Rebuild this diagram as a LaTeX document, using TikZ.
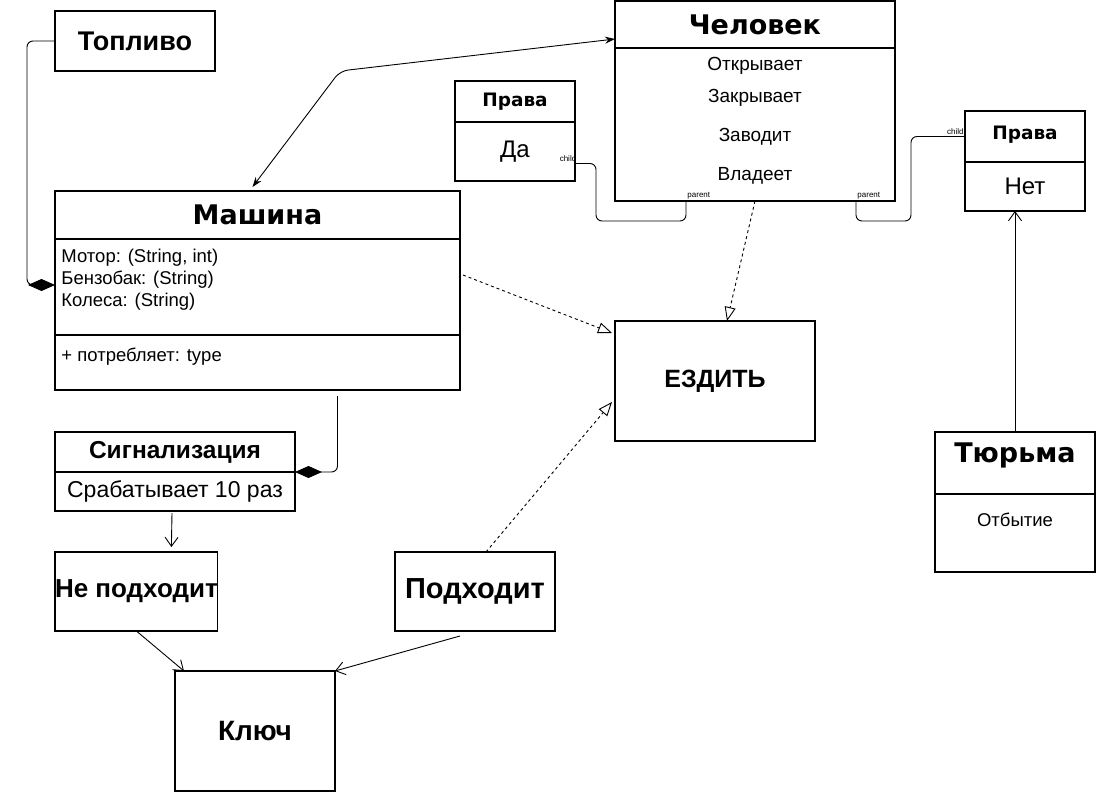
\documentclass[tikz,border=0pt]{standalone}
\usepackage{fontspec}
\setmainfont{Liberation Sans}
\newfontfamily\vdsans{DejaVu Sans}
\usetikzlibrary{positioning,arrows.meta,calc}

\begin{document}
\begin{tikzpicture}[x=1pt, y=-1pt, line width=0.9pt,
uml/.style={draw, rectangle, inner sep=0pt, outer sep=0pt, line width=1.2pt},
hd/.style={font=\fontsize{27}{32}\selectfont\bfseries},
vhd/.style={font=\vdsans\fontsize{27}{32}\selectfont\bfseries},
vsm/.style={font=\vdsans\fontsize{18.5}{22}\selectfont\bfseries},
txt/.style={font=\fontsize{18.5}{22}\selectfont},
tag/.style={font=\fontsize{8}{9}\selectfont, inner sep=1pt},
dep/.style={dash pattern=on 3pt off 3pt, -{Triangle[open,length=14pt,width=11pt]}},
comp/.style={rounded corners=6pt, -{Diamond[length=27pt,width=12pt]}},
assoc/.style={-{Straight Barb[length=9pt,width=13pt]}}]

\useasboundingbox (0,0) rectangle (1096,792);

% Машина and its parts
\node[uml, hd, minimum width=160, minimum height=60, anchor=north west] (fuel) at (55,11) {Топливо};
\node[uml, vhd, minimum width=405, minimum height=48, anchor=north west] (car) at (55,191) {Машина};
\node[uml, minimum width=405, minimum height=96, below=0pt of car] (carattr) {};
\node[uml, minimum width=405, minimum height=55, below=0pt of carattr] (carops) {};
\node[txt, align=left, anchor=north west, inner sep=0pt] (attrs) at ([xshift=6,yshift=-10]carattr.north west) {Мотор: (String, int)\\Бензобак: (String)\\Колеса: (String)};
\node[txt, anchor=west, inner sep=0pt] (ops) at ([xshift=6,yshift=6]carops.west) {+ потребляет: type};

% Человек
\node[uml, vhd, minimum width=280, minimum height=47, anchor=north west] (man) at (615,1) {Человек};
\node[uml, minimum width=280, minimum height=153, below=0pt of man] (manbody) {};
\foreach \n/\y/\t in {op/66/Открывает, cl/98/Закрывает, st/137/Заводит, ow/176/Владеет}
  \node[txt, font=\fontsize{19}{22}\selectfont] (\n) at (755,\y) {\t};

% права: да / нет
\node[uml, vsm, minimum width=120, minimum height=41, anchor=north west] (yesh) at (455,81) {Права};
\node[uml, font=\fontsize{24}{28}\selectfont, minimum width=120, minimum height=59, below=0pt of yesh] (yesb) {Да};
\node[uml, vsm, text depth=8pt, minimum width=120, minimum height=51, anchor=north west] (noh) at (965,111) {Права};
\node[uml, font=\fontsize{24}{28}\selectfont, minimum width=120, minimum height=49, below=0pt of noh] (nob) {Нет};

\node[uml, font=\fontsize{25}{30}\selectfont\bfseries, minimum width=200, minimum height=120, anchor=north west] (drive) at (615,321) {ЕЗДИТЬ};

% Тюрьма
\node[uml, vhd, text depth=20pt, minimum width=160, minimum height=62, anchor=north west] (jail) at (935,432) {Тюрьма};
\node[uml, minimum width=160, minimum height=78, below=0pt of jail] (jailb) {};
\node[txt] (served) at (1015,520) {Отбытие};

% Сигнализация and ключ
\node[uml, font=\fontsize{24.5}{28}\selectfont\bfseries, minimum width=240, minimum height=40, anchor=north west] (alarmh) at (55,432) {Сигнализация};
\node[uml, font=\fontsize{23}{27}\selectfont, minimum width=240, minimum height=39, below=0pt of alarmh] (alarmb) {Срабатывает 10 раз};
\node[uml, font=\fontsize{26}{30}\selectfont\bfseries, minimum width=160, minimum height=79, anchor=north west] (nofit) at (55,552) {Не подходит};
\node[uml, font=\fontsize{29}{33}\selectfont\bfseries, minimum width=160, minimum height=79, anchor=north west] (match) at (395,552) {Подходит};
\node[uml, font=\fontsize{28}{32}\selectfont\bfseries, minimum width=160, minimum height=120, anchor=north west] (key) at (175,671) {Ключ};

% connectors
\coordinate (bend) at (340,71);
\draw[{Stealth[length=10pt,width=7pt]}-{Stealth[length=10pt,width=7pt]}, rounded corners=8pt] ([xshift=-5,yshift=4]car.north) -- (bend) -- ([yshift=9]man.south west);
\draw[comp] (fuel.west) -- ++(-28,0) |- ([yshift=2]carattr.west);
\draw[comp] ([xshift=80,yshift=-6]carops.south) |- (alarmh.south east);
\draw[rounded corners=6pt] ([yshift=-12]yesb.east) node[tag, anchor=south, xshift=-7] (chyes) {child} -- ++(21,0) |- ([xshift=-69,yshift=-20]manbody.south) -- ([xshift=-69]manbody.south) node[tag, anchor=south west] (paryes) {parent};
\draw[rounded corners=6pt] (noh.west) node[tag, anchor=south east] (chno) {child} -- ++(-54,0) |- ([xshift=101,yshift=-20]manbody.south) -- ([xshift=101]manbody.south) node[tag, anchor=south west] (parno) {parent};
\draw[dep] ([xshift=3,yshift=12]carattr.east) -- ([xshift=-3,yshift=48]drive.west);
\draw[dep] (manbody.south) -- ([xshift=12]drive.north);
\draw[dep] ([xshift=11]match.north) -- ([xshift=-3,yshift=-21]drive.west);
\draw[assoc] (jail.north) -- (jail.north |- nob.south);
\draw[assoc] ([xshift=-3,yshift=-2]alarmb.south) -- ([xshift=35,yshift=5]nofit.north);
\draw[assoc] (nofit.south) -- ([xshift=9]key.north west);
\draw[assoc] ([xshift=-15,yshift=-5]match.south) -- (key.north east);
%\node (legend) [below=of served] {};
\end{tikzpicture}
\end{document}
